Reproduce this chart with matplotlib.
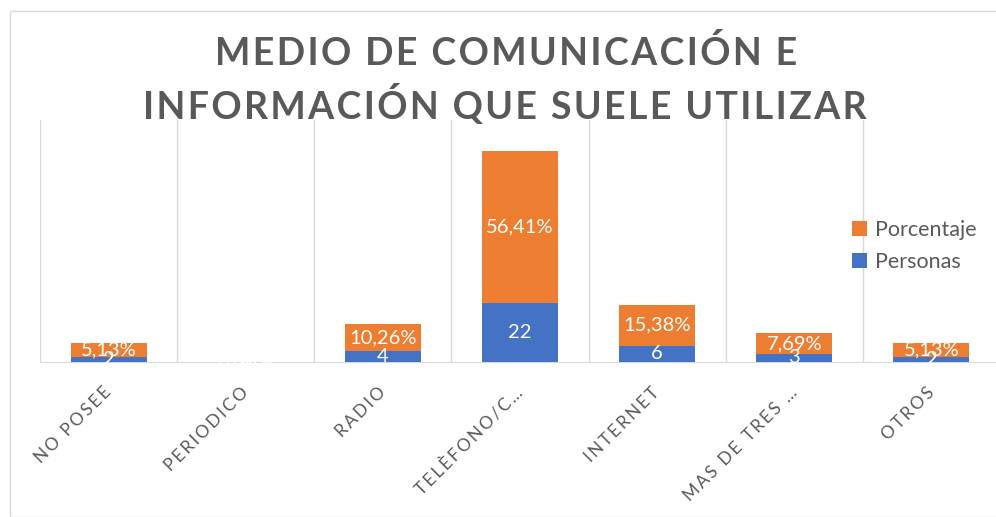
import matplotlib.pyplot as plt
from matplotlib.patches import Rectangle

categorias = ["NO POSEE", "PERIODICO", "RADIO", "TELÈFONO/C…", "INTERNET", "MAS DE TRES …", "OTROS"]
personas = [2, 0, 4, 22, 6, 3, 2]
porcentaje = [5.13, 0.00, 10.26, 56.41, 15.38, 7.69, 5.13]
titulo = ["MEDIO DE COMUNICACIÓN E", "INFORMACIÓN QUE SUELE UTILIZAR"]

azul = "#4472C4"
naranja = "#ED7D31"
gris = "#595959"
fam = ["Lato", "DejaVu Sans"]


def espaciar(s, sep="\u2009"):
    return sep.join(list(s))


fig = plt.figure(figsize=(9.96, 5.17), dpi=100)
fig.patches.append(Rectangle((10 / 996, 0), 1.0, 1 - 11 / 517, transform=fig.transFigure,
                             fill=False, edgecolor="#d9d9d9", linewidth=1))
ax = fig.add_axes([40 / 996, 1 - 362 / 517, 960 / 996, 242 / 517])

x = list(range(len(categorias)))
ax.bar(x, personas, width=0.555, color=azul, label="Personas", zorder=3)
ax.bar(x, porcentaje, width=0.555, bottom=personas, color=naranja, label="Porcentaje", zorder=3)

for i in x:
    ax.text(i, personas[i] / 2, str(personas[i]), ha="center", va="center",
            color="white", fontsize=14.5, family=fam, zorder=4)
    txt = ("%.2f" % porcentaje[i]).replace(".", ",") + "%"
    ax.text(i, personas[i] + porcentaje[i] / 2, txt, ha="center", va="center",
            color="white", fontsize=14.5, family=fam, zorder=4)

ax.set_xlim(-0.5, 6.5)
ax.set_ylim(0, 90)
for b in [i - 0.5 for i in x]:
    ax.axvline(b, color="#d9d9d9", linewidth=1, zorder=1)
for s in ["top", "right", "left"]:
    ax.spines[s].set_visible(False)
ax.spines["bottom"].set_color("#d9d9d9")
ax.set_yticks([])
ax.set_xticks(x)
ax.set_xticklabels([espaciar(c, "\u2009") for c in categorias], rotation=45, ha="right",
                   va="center", rotation_mode="anchor", fontsize=12.5, color=gris, family=fam)
ax.tick_params(axis="x", length=0, pad=20)

fig.text(506 / 996, 1 - 53 / 517, espaciar(titulo[0], "\u200a"), ha="center", va="center",
         fontsize=27, fontweight="bold", color=gris, family=fam)
fig.text(505 / 996, 1 - 105 / 517, espaciar(titulo[1], "\u200a"), ha="center", va="center",
         fontsize=27, fontweight="bold", color=gris, family=fam)

h, l = ax.get_legend_handles_labels()
ax.legend(h[::-1], l[::-1], loc="upper left", bbox_to_anchor=(833 / 996, 1 - 201 / 517),
          bbox_transform=fig.transFigure, frameon=False,
          handlelength=0.7, handleheight=0.7, handletextpad=0.35, labelspacing=0.55,
          labelcolor=gris, prop={"family": fam, "size": 15.5})

fig.savefig("out.png", dpi=100)
